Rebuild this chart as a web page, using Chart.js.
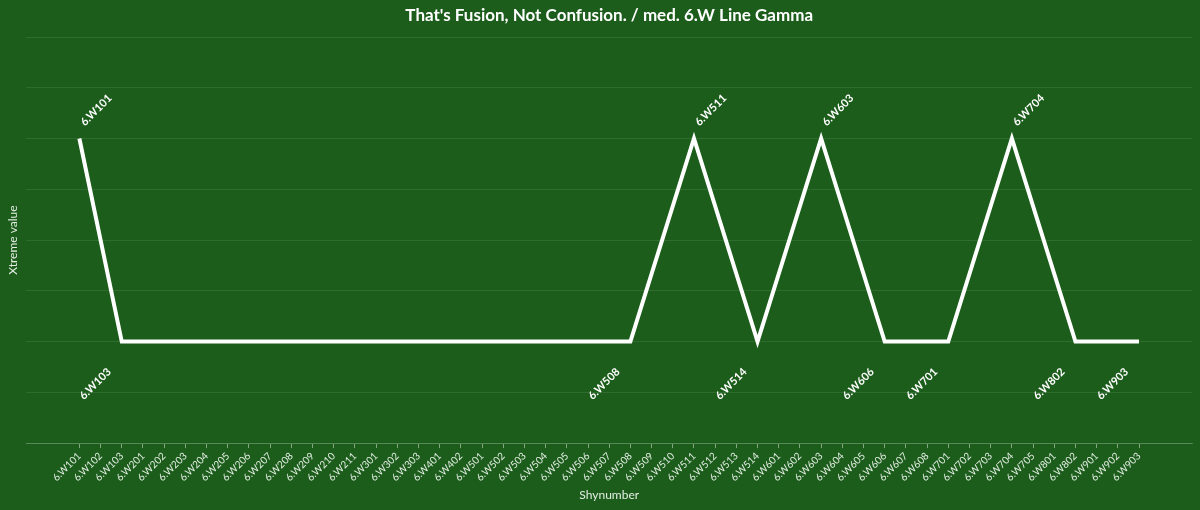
<!DOCTYPE html>
<html>
<head>
<meta charset="utf-8">
<script src="https://cdn.jsdelivr.net/npm/chart.js@4"></script>
<style>
  html, body { margin: 0; padding: 0; background: #1c5d1c; }
  #wrap { width: 1200px; height: 510px; }
</style>
</head>
<body>
<div id="wrap"><canvas id="lineChart"></canvas></div>
<script>
// categories along the x axis
const shynumbers = [
    "6.W101", "6.W102", "6.W103", "6.W201", "6.W202", "6.W203", "6.W204", "6.W205",
    "6.W206", "6.W207", "6.W208", "6.W209", "6.W210", "6.W211", "6.W301", "6.W302",
    "6.W303", "6.W401", "6.W402", "6.W501", "6.W502", "6.W503", "6.W504", "6.W505",
    "6.W506", "6.W507", "6.W508", "6.W509", "6.W510", "6.W511", "6.W512", "6.W513",
    "6.W514", "6.W601", "6.W602", "6.W603", "6.W604", "6.W605", "6.W606", "6.W607",
    "6.W608", "6.W701", "6.W702", "6.W703", "6.W704", "6.W705", "6.W801", "6.W802",
    "6.W901", "6.W902", "6.W903"
];

// the points that carry a value
const pointNames  = ["6.W101", "6.W103", "6.W508", "6.W511", "6.W514", "6.W603", "6.W606", "6.W701", "6.W704", "6.W802", "6.W903"];
const pointValues = [6, 2, 2, 6, 2, 6, 2, 2, 6, 2, 2];

const yMin = 0;
const yMax = 8;

const chartTitle = "That's Fusion, Not Confusion. / med. 6.W Line Gamma";

const linePoints = pointNames.map((n, i) => ({ x: shynumbers.indexOf(n), y: pointValues[i], name: n }));

const bgPlugin = {
    id: "bg",
    beforeDraw(chart) {
        const ctx = chart.ctx;
        ctx.save();
        ctx.fillStyle = "#1c5d1c";
        ctx.fillRect(0, 0, chart.width, chart.height);
        ctx.restore();
    }
};

// title centred over the plot area, not the whole canvas
const areaTitle = {
    id: "areaTitle",
    afterDraw(chart) {
        const ctx = chart.ctx;
        const a = chart.chartArea;
        ctx.save();
        ctx.font = "bold 17px Lato";
        ctx.fillStyle = "#ffffff";
        ctx.textAlign = "center";
        ctx.textBaseline = "middle";
        ctx.fillText(chartTitle, (a.left + a.right) / 2, 16);
        ctx.restore();
    }
};

const pointLabels = {
    id: "pointLabels",
    afterDatasetsDraw(chart) {
        const ctx = chart.ctx;
        const meta = chart.getDatasetMeta(0);
        ctx.save();
        ctx.font = "bold 11px Lato";
        ctx.fillStyle = "#ffffff";
        ctx.textBaseline = "middle";
        meta.data.forEach((pt, i) => {
            const d = linePoints[i];
            ctx.save();
            if (d.y > 4) {
                ctx.translate(pt.x + 3, pt.y - 14.5);
                ctx.rotate(-Math.PI / 4);
                ctx.textAlign = "left";
            } else {
                ctx.translate(pt.x - 12.5, pt.y + 28.5);
                ctx.rotate(-Math.PI / 4);
                ctx.textAlign = "right";
            }
            ctx.fillText(d.name, 0, 0);
            ctx.restore();
        });
        ctx.restore();
    }
};

new Chart(document.getElementById("lineChart"), {

    type: "line",

    data: {
        datasets: [
            {
                data: linePoints,
                borderColor: "#ffffff",
                borderWidth: 4,
                pointRadius: 0,
                tension: 0,
                fill: false
            }
        ]
    },

    options: {
        responsive: true,
        maintainAspectRatio: false,
        animation: false,
        layout: {
            padding: { left: 6, right: 8, top: 37, bottom: 8 }
        },
        plugins: {
            legend: { display: false },
            tooltip: { enabled: false },
            title: { display: false }
        },
        scales: {
            x: {
                type: "linear",
                min: -2.5,
                max: shynumbers.length + 1.5,
                afterBuildTicks(scale) {
                    scale.ticks = shynumbers.map((s, i) => ({ value: i }));
                },
                ticks: {
                    autoSkip: false,
                    maxRotation: 45,
                    minRotation: 45,
                    color: "#e4eee4",
                    font: { family: "Lato", size: 10 },
                    padding: 2,
                    callback: v => shynumbers[v]
                },
                grid: {
                    drawOnChartArea: false,
                    tickLength: 5,
                    tickColor: "rgba(255,255,255,0.45)"
                },
                border: { color: "rgba(255,255,255,0.2)" },
                title: {
                    display: true,
                    text: "Shynumber",
                    color: "#e4eee4",
                    font: { family: "Lato", size: 12 },
                    padding: { top: 2, bottom: 0 }
                }
            },
            y: {
                min: yMin,
                max: yMax,
                ticks: { display: false, stepSize: 1 },
                grid: { color: "rgba(255,255,255,0.09)", drawTicks: false },
                border: { display: false },
                title: {
                    display: true,
                    text: "Xtreme value",
                    color: "#e4eee4",
                    font: { family: "Lato", size: 12 },
                    padding: { top: 0, bottom: 6 }
                }
            }
        }
    },

    plugins: [bgPlugin, areaTitle, pointLabels]
});
</script>
</body>
</html>
